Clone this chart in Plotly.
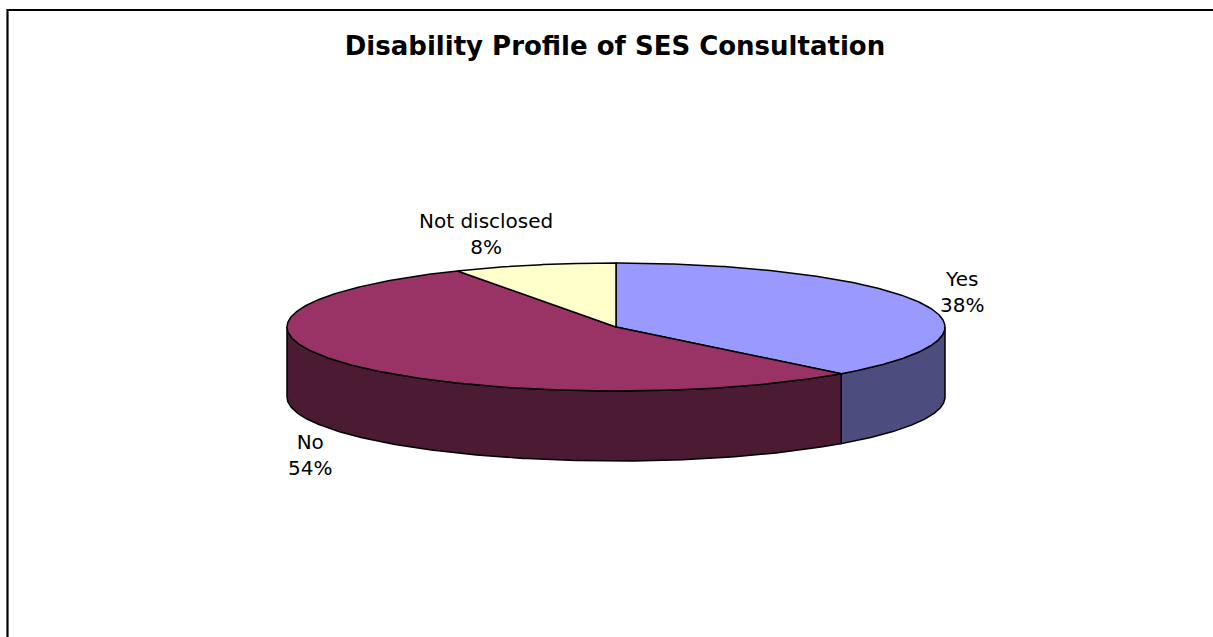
import numpy as np
import plotly.graph_objects as go

# Data
categories = ["Yes", "No", "Not disclosed"]
values = [38, 54, 8]
top_colors = ["#9999FF", "#993366", "#FFFFCC"]
side_colors = ["#4C4C7F", "#4B1A33", "#80806A"]
label_pos = [(962, 292), (310, 455), (486, 234)]

W, H = 1213, 637
# Pie geometry in pixel units (drawn on axes spanning the page)
CX, CY, RX, RY, DEPTH = 616, 327, 329, 64, 70


def rim(theta_deg, drop=0.0):
    """Point on the elliptical rim; angle clockwise from 12 o'clock."""
    t = np.radians(theta_deg)
    return CX + RX * np.sin(t), CY - RY * np.cos(t) + drop


total = float(sum(values))
bounds = np.concatenate([[0.0], np.cumsum(values) / total * 360.0])

fig = go.Figure()
line = dict(color="black", width=1.5)

# Side walls: only the front half (90..270 deg) is visible
for i, cat in enumerate(categories):
    lo, hi = max(bounds[i], 90.0), min(bounds[i + 1], 270.0)
    if lo >= hi:
        continue
    th = np.linspace(lo, hi, 200)
    xt, yt = rim(th)
    xb, yb = rim(th[::-1], DEPTH)
    fig.add_trace(go.Scatter(
        x=np.concatenate([xt, xb, xt[:1]]),
        y=np.concatenate([yt, yb, yt[:1]]),
        mode="lines", fill="toself", fillcolor=side_colors[i],
        line=line, hoverinfo="skip", showlegend=False))

# Top faces
for i, cat in enumerate(categories):
    th = np.linspace(bounds[i], bounds[i + 1], 300)
    xt, yt = rim(th)
    fig.add_trace(go.Scatter(
        x=np.concatenate([[CX], xt, [CX]]),
        y=np.concatenate([[CY], yt, [CY]]),
        mode="lines", fill="toself", fillcolor=top_colors[i],
        line=line, hoverinfo="skip", showlegend=False, name=cat))

# Data labels
for i, cat in enumerate(categories):
    lx, ly = label_pos[i]
    fig.add_annotation(
        x=lx, y=ly, xref="x", yref="y",
        text=f"{cat}<br>{values[i]}%", showarrow=False,
        font=dict(family="DejaVu Sans", size=20, color="black"),
        align="center", xanchor="center", yanchor="middle")

# Chart area frame
fig.add_shape(type="rect", xref="paper", yref="paper",
              x0=7.5 / W, x1=1.02, y0=-0.02, y1=1 - 10 / H,
              line=dict(color="black", width=2.2), fillcolor="rgba(0,0,0,0)")

fig.update_layout(
    width=W, height=H,
    margin=dict(l=0, r=0, t=0, b=0),
    paper_bgcolor="white", plot_bgcolor="white",
    title=dict(text="<b>Disability Profile of SES Consultation</b>",
               x=615 / W, xanchor="center", y=1 - 46 / H, yanchor="middle",
               font=dict(family="DejaVu Sans", size=26, color="black")),
    xaxis=dict(range=[0, W], visible=False, fixedrange=True),
    yaxis=dict(range=[H, 0], visible=False, fixedrange=True),
    showlegend=False,
)

fig.write_html("out.html")
